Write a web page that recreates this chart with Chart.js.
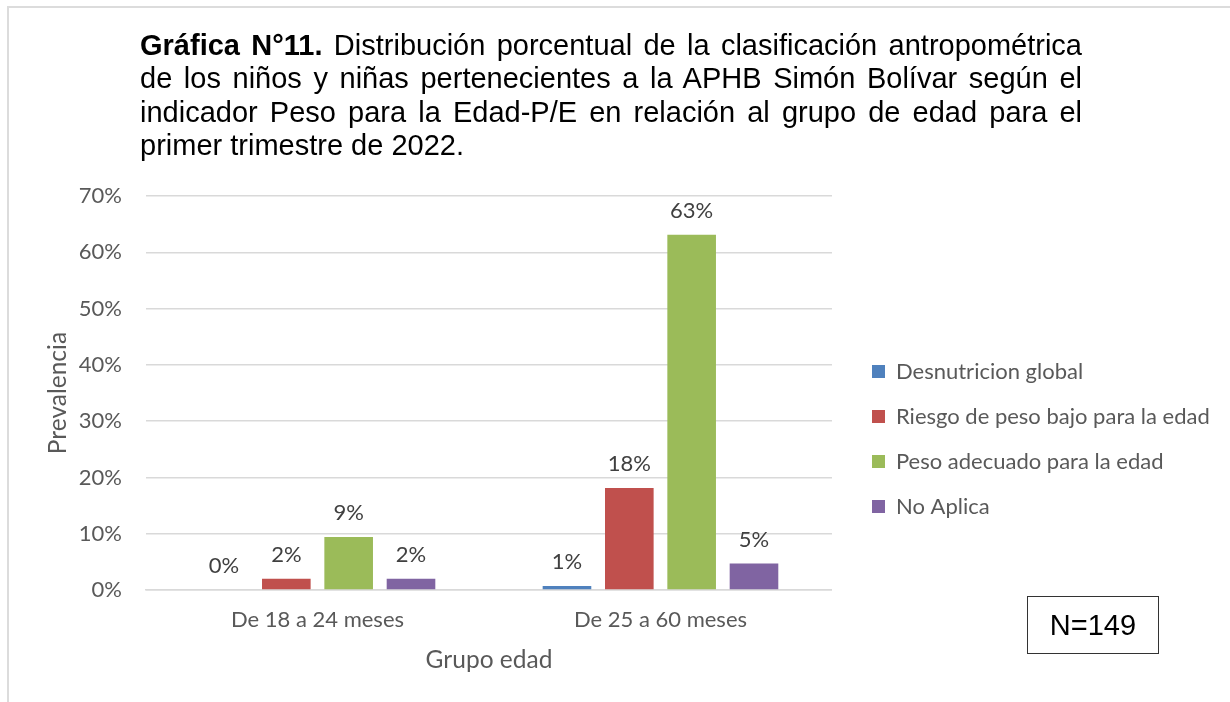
<!DOCTYPE html>
<html>
<head>
<meta charset="utf-8">
<script src="https://cdn.jsdelivr.net/npm/chart.js@4.4.1/dist/chart.umd.min.js"></script>
<style>
  html, body { margin: 0; padding: 0; background: #ffffff; }
  #wrap { position: relative; width: 1230px; height: 702px; overflow: hidden; background: #fff; }
  #chart { position: absolute; left: 0; top: 0; }
  #frameTop { position: absolute; left: 7px; top: 6px; width: 1223px; height: 2px; background: #dcdcdc; }
  #frameLeft { position: absolute; left: 7px; top: 6px; width: 2px; height: 696px; background: #dcdcdc; }
  #title { position: absolute; left: 140px; top: 29px; width: 942px;
           font-family: "Liberation Sans", Arial, sans-serif; font-size: 29px; line-height: 33.35px; color: #000; }
  #title .ln { white-space: nowrap; text-align: justify; text-align-last: justify; }
  #title .ln.last { text-align: left; text-align-last: left; }
  #nbox { position: absolute; left: 1027px; top: 596px; width: 130px; height: 56px; border: 1.5px solid #333;
          display: flex; align-items: center; justify-content: center;
          font-family: "Liberation Sans", Arial, sans-serif; font-size: 29px; color: #000; }
</style>
</head>
<body>
<div id="wrap">
  <canvas id="chart" width="1230" height="702"></canvas>
  <div id="frameTop"></div>
  <div id="frameLeft"></div>
  <div id="title">
    <div class="ln"><b>Gráfica N°11.</b> Distribución porcentual de la clasificación antropométrica</div>
    <div class="ln">de los niños y niñas pertenecientes a la APHB Simón Bolívar según el</div>
    <div class="ln">indicador Peso para la Edad-P/E en relación al grupo de edad para el</div>
    <div class="ln last">primer trimestre de 2022.</div>
  </div>
  <div id="nbox">N=149</div>
</div>
<script>
// ---- Data (percent values) ----
const categories = ['De 18 a 24 meses', 'De 25 a 60 meses'];
const seriesNames = ['Desnutricion global', 'Riesgo de peso bajo para la edad', 'Peso adecuado para la edad', 'No Aplica'];
const desnutricionGlobal = [0, 0.7];
const riesgoPesoBajo = [2.0, 18.1];
const pesoAdecuado = [9.4, 63.1];
const noAplica = [2.0, 4.7];
const seriesColors = ['#4F81BD', '#C0504D', '#9BBB59', '#8064A2'];
const yMin = 0, yMax = 70, yStep = 10;
const xTitle = 'Grupo edad';
const yTitle = 'Prevalencia';

const FONT = 'Lato, "Open Sans", sans-serif';
const TXT = '#595959';

const valueLabels = {
  id: 'valueLabels',
  afterDatasetsDraw(chart) {
    const ctx = chart.ctx;
    ctx.save();
    ctx.font = '22px ' + FONT;
    ctx.fillStyle = '#404040';
    ctx.textAlign = 'center';
    ctx.textBaseline = 'middle';
    chart.data.datasets.forEach((ds, i) => {
      const meta = chart.getDatasetMeta(i);
      meta.data.forEach((el, j) => {
        const v = ds.data[j];
        ctx.fillText(Math.round(v) + '%', el.x, el.y - 24);
      });
    });
    ctx.restore();
  }
};

const legendGap = {
  id: 'legendGap',
  afterLayout(chart) {
    const lg = chart.legend;
    if (!lg) return;
    lg.left = chart.chartArea.right + 17;
    lg.right = chart.width;
    lg.width = lg.right - lg.left;
  }
};

const allSeries = [desnutricionGlobal, riesgoPesoBajo, pesoAdecuado, noAplica];

new Chart(document.getElementById('chart'), {
  type: 'bar',
  data: {
    labels: categories,
    datasets: allSeries.map((d, i) => ({
      label: seriesNames[i],
      data: d,
      backgroundColor: seriesColors[i],
      borderWidth: 0,
      categoryPercentage: 0.727,
      barPercentage: 0.78
    }))
  },
  options: {
    responsive: false,
    animation: false,
    devicePixelRatio: 1,
    layout: { padding: { top: 196, left: 0, right: 120.7, bottom: 20 } },
    plugins: {
      tooltip: { enabled: false },
      title: { display: false },
      legend: {
        position: 'right',
        align: 'center',
        labels: {
          boxWidth: 13,
          boxHeight: 13,
          padding: 23,
          color: TXT,
          font: { family: FONT, size: 22 }
        }
      }
    },
    scales: {
      x: {
        grid: { display: false, drawTicks: false },
        border: { display: true, color: '#d9d9d9', width: 1.5 },
        ticks: { color: TXT, padding: 17, font: { family: FONT, size: 22 } },
        title: { display: true, text: xTitle, color: TXT, font: { family: FONT, size: 24.5 }, padding: { top: 0, bottom: 7.3 } },
        afterFit(s) { s.height = 92; }
      },
      y: {
        min: yMin,
        max: yMax,
        ticks: { stepSize: yStep, color: TXT, padding: 24, font: { family: FONT, size: 22 },
                 callback: (v) => v + '%' },
        grid: { color: '#d9d9d9', lineWidth: 1.5, drawTicks: false },
        border: { display: false },
        title: { display: true, text: yTitle, color: TXT, font: { family: FONT, size: 24.5 }, padding: { top: 43.3, bottom: 0 } },
        afterFit(s) { s.width = 146; }
      }
    }
  },
  plugins: [valueLabels, legendGap]
});
</script>
</body>
</html>
